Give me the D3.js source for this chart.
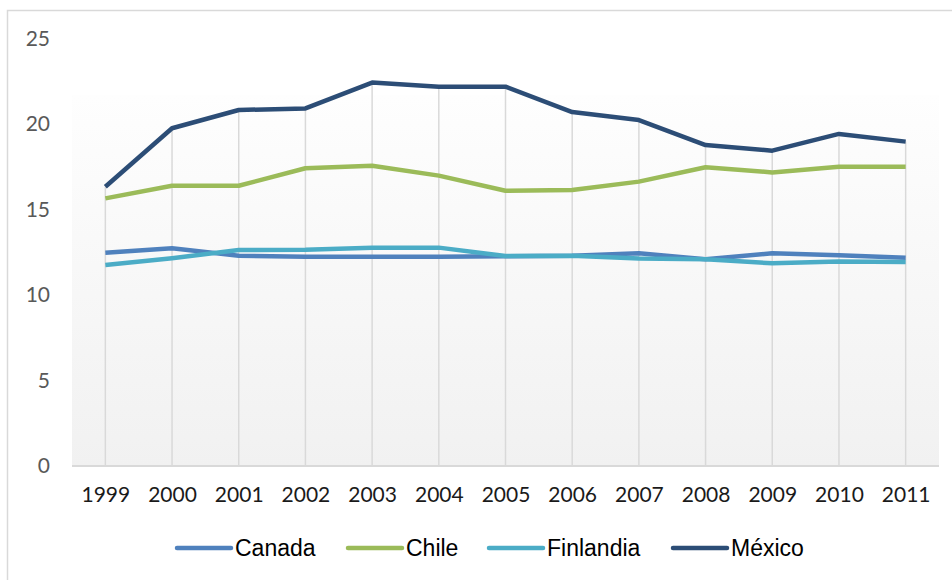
<!DOCTYPE html>
<html>
<head>
<meta charset="utf-8">
<script src="https://d3js.org/d3.v7.min.js"></script>
<style>
body { margin: 0; background: #fff; }
</style>
</head>
<body>
<svg id="chart" width="952" height="580"></svg>
<script>
// data
var years = ["1999","2000","2001","2002","2003","2004","2005","2006","2007","2008","2009","2010","2011"];
var canada    = [12.47, 12.73, 12.30, 12.24, 12.24, 12.24, 12.26, 12.30, 12.44, 12.09, 12.44, 12.32, 12.18];
var chile     = [15.65, 16.39, 16.39, 17.41, 17.56, 16.98, 16.10, 16.14, 16.63, 17.47, 17.17, 17.50, 17.50];
var finlandia = [11.75, 12.15, 12.63, 12.65, 12.77, 12.77, 12.28, 12.30, 12.14, 12.09, 11.85, 11.96, 11.93];
var mexico    = [16.33, 19.75, 20.82, 20.91, 22.42, 22.18, 22.18, 20.70, 20.23, 18.77, 18.44, 19.42, 18.97];
var yTicks = [0, 5, 10, 15, 20, 25];

var series = [
  { name: "Canada", values: canada, color: "#4F81BD" },
  { name: "Chile", values: chile, color: "#9BBB59" },
  { name: "Finlandia", values: finlandia, color: "#4BACC6" },
  { name: "México", values: mexico, color: "#2C4D76" }
];

var svg = d3.select("#chart");

// outer chart border
svg.append("rect")
  .attr("x", 7.5).attr("y", 10.5)
  .attr("width", 960).attr("height", 600)
  .attr("fill", "#fff")
  .attr("stroke", "#d9d9d9")
  .attr("stroke-width", 1.5);

var x = d3.scalePoint()
  .domain(years)
  .range([72, 939])
  .padding(0.5);

var y = d3.scaleLinear()
  .domain([0, 25])
  .range([466, 38.5]);

// plot area gradient
var grad = svg.append("defs").append("linearGradient")
  .attr("id", "bg").attr("x1", 0).attr("y1", 0).attr("x2", 0).attr("y2", 1);
grad.append("stop").attr("offset", "0%").attr("stop-color", "#fefefe");
grad.append("stop").attr("offset", "100%").attr("stop-color", "#f1f1f1");

svg.append("rect")
  .attr("x", 72).attr("y", 95)
  .attr("width", 867).attr("height", y(0) - 95)
  .attr("fill", "url(#bg)");

// drop lines from the highest point down to the axis
svg.append("g").selectAll("line")
  .data(years)
  .enter().append("line")
  .attr("x1", function(d) { return x(d); })
  .attr("x2", function(d) { return x(d); })
  .attr("y1", function(d, i) { return y(d3.max(series, function(s) { return s.values[i]; })); })
  .attr("y2", y(0))
  .attr("stroke", "#d9d9d9")
  .attr("stroke-width", 1.5);

// x axis
var xAxis = svg.append("g")
  .attr("transform", "translate(0," + y(0) + ")")
  .call(d3.axisBottom(x).tickSize(0).tickPadding(21));
xAxis.select(".domain")
  .attr("d", "M72,0H939")
  .attr("stroke", "#d9d9d9")
  .attr("stroke-width", 2);
xAxis.selectAll("text")
  .attr("font-family", "Lato, 'Open Sans', sans-serif")
  .attr("font-size", "21px")
  .attr("fill", "#1a1a1a");

// y axis
var yAxis = svg.append("g")
  .attr("transform", "translate(50,0)")
  .call(d3.axisLeft(y).tickValues(yTicks).tickSize(0).tickPadding(0));
yAxis.select(".domain").remove();
yAxis.selectAll("text")
  .attr("font-family", "Lato, 'Open Sans', sans-serif")
  .attr("font-size", "21px")
  .attr("fill", "#595959");

// the lines
var line = d3.line()
  .x(function(d, i) { return x(years[i]); })
  .y(function(d) { return y(d); });

svg.append("g").selectAll("path")
  .data(series)
  .enter().append("path")
  .attr("d", function(s) { return line(s.values); })
  .attr("fill", "none")
  .attr("stroke", function(s) { return s.color; })
  .attr("stroke-width", 4.5)
  .attr("stroke-linejoin", "round");

// legend
var legendX = [177, 348, 489, 673];
var leg = svg.append("g").selectAll("g")
  .data(series)
  .enter().append("g")
  .attr("transform", function(s, i) { return "translate(" + legendX[i] + ",548)"; });
leg.append("line")
  .attr("x1", 0).attr("x2", 54)
  .attr("stroke", function(s) { return s.color; })
  .attr("stroke-width", 4.5)
  .attr("stroke-linecap", "round");
leg.append("text")
  .attr("x", 58).attr("y", 8)
  .attr("font-family", "'Liberation Sans', Arial, sans-serif")
  .attr("font-size", "23px")
  .attr("fill", "#000")
  .text(function(s) { return s.name; });
</script>
</body>
</html>
